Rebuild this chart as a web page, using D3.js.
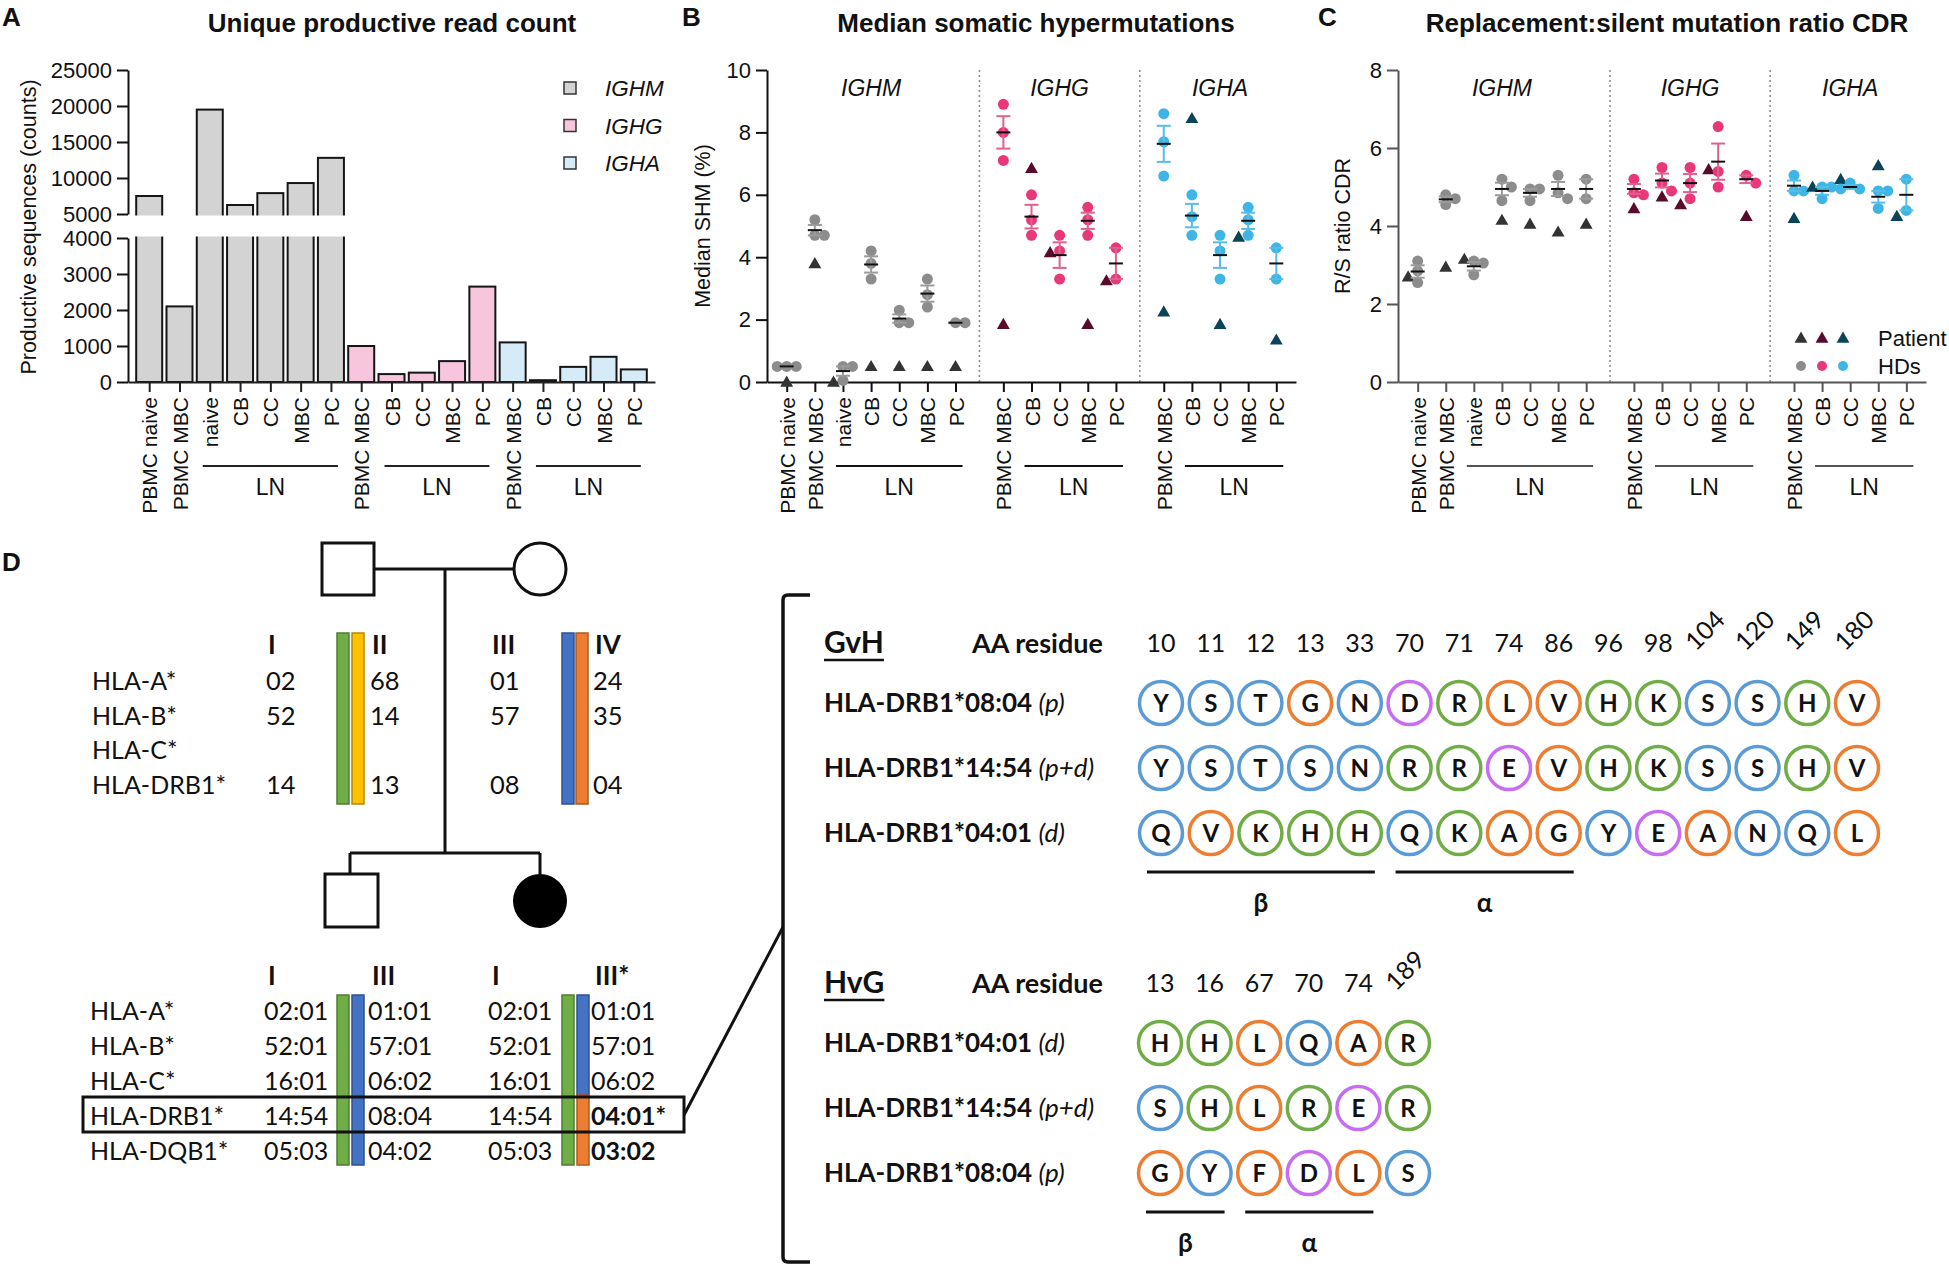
<!DOCTYPE html>
<html>
<head>
<meta charset="utf-8">
<title>Figure</title>
<script src="https://cdn.jsdelivr.net/npm/d3@7"></script>
<style>
  body { margin: 0; background: #fff; }
</style>
</head>
<body>
<svg id="fig" width="1949" height="1275"></svg>
<script>
// ---------- data ----------
const cellTypes = ["PBMC naive", "PBMC MBC", "naive", "CB", "CC", "MBC", "PC",
                   "PBMC MBC", "CB", "CC", "MBC", "PC",
                   "PBMC MBC", "CB", "CC", "MBC", "PC"];
const isotypes = ["IGHM", "IGHG", "IGHA"];
const isoOfCat = [0, 0, 0, 0, 0, 0, 0, 1, 1, 1, 1, 1, 2, 2, 2, 2, 2];
const lnRuns = [[2, 6], [8, 11], [13, 16]];

// A: unique productive reads
const readCounts = [7500, 2100, 19500, 6250, 7900, 9300, 12800,
                    1000, 220, 260, 580, 2650,
                    1100, 50, 420, 700, 350];
const yTicksLow = [0, 1000, 2000, 3000, 4000];
const yTicksHigh = [5000, 10000, 15000, 20000, 25000];

// B: median SHM (%)
const shmHD = [[0.5, 0.5, 0.5], [5.2, 4.7, 4.7], [0.5, 0.5, 0.05], [4.2, 3.8, 3.3], [2.3, 1.9, 1.9], [3.3, 2.8, 2.4], [1.9, 1.9],
               [8.9, 8.0, 7.1], [6.0, 5.2, 4.7], [4.7, 4.2, 3.3], [5.6, 5.2, 4.7], [4.3, 3.3],
               [8.6, 7.7, 6.6], [6.0, 5.3, 4.7], [4.7, 4.2, 3.3], [5.6, 5.2, 4.7], [4.3, 3.3]];
const shmPatient = [0, 3.8, 0, 0.5, 0.5, 0.5, 0.5,
                    1.85, 6.85, 4.15, 1.85, 3.25,
                    2.25, 8.45, 1.85, 4.65, 1.35];
const shmTicks = [0, 2, 4, 6, 8, 10];

// C: R/S ratio CDR
const rsHD = [[2.55, 2.85, 3.1], [4.8, 4.7, 4.55], [3.1, 3.05, 2.75], [5.2, 5.0, 4.65], [4.95, 4.95, 4.65], [5.3, 4.85, 4.7], [5.2, 4.7],
              [5.2, 4.85, 4.8], [5.5, 5.1, 4.9], [5.5, 5.1, 4.7], [6.55, 5.4, 5.0], [5.3, 5.1],
              [5.3, 4.9, 4.9], [5.0, 5.0, 4.7], [5.1, 4.95, 4.95], [4.9, 4.9, 4.45], [5.2, 4.4]];
const rsPatient = [2.7, 2.95, 3.15, 4.15, 4.05, 3.85, 4.05,
                   4.45, 4.75, 4.55, 5.45, 4.25,
                   4.2, 5.0, 5.2, 5.55, 4.25];
const rsTicks = [0, 2, 4, 6, 8];

// D: HLA typing
const lociParents = ["HLA-A*", "HLA-B*", "HLA-C*", "HLA-DRB1*"];
const parentHeads = ["I", "II", "III", "IV"];
const parentHaplo = [["02", "52", "", "14"], ["68", "14", "", "13"], ["01", "57", "", "08"], ["24", "35", "", "04"]];
const lociChildren = ["HLA-A*", "HLA-B*", "HLA-C*", "HLA-DRB1*", "HLA-DQB1*"];
const childHeads = ["I", "III", "I", "III*"];
const childHaplo = [["02:01", "52:01", "16:01", "14:54", "05:03"],
                    ["01:01", "57:01", "06:02", "08:04", "04:02"],
                    ["02:01", "52:01", "16:01", "14:54", "05:03"],
                    ["01:01", "57:01", "06:02", "04:01*", "03:02"]];
const childBold = [[], [], [], [3, 4]];

const gvhResidues = [10, 11, 12, 13, 33, 70, 71, 74, 86, 96, 98, 104, 120, 149, 180];
const gvhAlleles = ["HLA-DRB1*08:04", "HLA-DRB1*14:54", "HLA-DRB1*04:01"];
const gvhOrigin = ["(p)", "(p+d)", "(d)"];
const gvhSeq = ["YSTGNDRLVHKSSHV", "YSTSNRREVHKSSHV", "QVKHHQKAGYEANQL"];
const gvhRegions = [["β", 0, 4], ["α", 5, 8]];

const hvgResidues = [13, 16, 67, 70, 74, 189];
const hvgAlleles = ["HLA-DRB1*04:01", "HLA-DRB1*14:54", "HLA-DRB1*08:04"];
const hvgOrigin = ["(d)", "(p+d)", "(p)"];
const hvgSeq = ["HHLQAR", "SHLRER", "GYFDLS"];
const hvgRegions = [["β", 0, 1], ["α", 2, 4]];

// ---------- styles ----------
const barFill = ["#d3d3d3", "#f8c6dc", "#d5ecf8"];
const hdColor = ["#8c8c8c", "#e8387a", "#3db6e6"];
const errColor = ["#9b9b9b", "#e0608f", "#55bde8"];
const ptColor = ["#333333", "#5a0b2c", "#0c4457"];
const aaColor = { hyd: "#ed7d31", pol: "#5b9bd5", bas: "#70ad47", aci: "#c86cf2" };
const aaClass = c => "GAVLIFMWP".includes(c) ? "hyd" : "KRH".includes(c) ? "bas" : "DE".includes(c) ? "aci" : "pol";
const ARIAL = "'Liberation Sans', Arial, sans-serif";
const CAL = "Lato, 'Open Sans', sans-serif";

const svg = d3.select("#fig");
svg.append("rect").attr("width", 1949).attr("height", 1275).attr("fill", "#fff");

function txt(g, x, y, s, size, opts = {}) {
  return g.append("text").attr("x", x).attr("y", y).text(s)
    .attr("font-size", size).attr("font-family", opts.family || ARIAL)
    .attr("font-weight", opts.bold ? "bold" : "normal")
    .attr("font-style", opts.italic ? "italic" : "normal")
    .attr("text-anchor", opts.anchor || "start")
    .attr("fill", opts.fill || "#111");
}

function styleAxis(g, color, size) {
  g.selectAll("text").attr("font-size", size).attr("font-family", ARIAL).attr("fill", "#111");
  g.selectAll("line, path").attr("stroke", color).attr("stroke-width", 2);
}

function xLabels(g, xs, color) {
  const ax = g.append("g").attr("transform", "translate(0,382)")
    .call(d3.axisBottom(xs.scale).tickValues(xs.ticks).tickFormat((d, i) => cellTypes[i]).tickSize(10).tickSizeOuter(0));
  styleAxis(ax, color, 21);
  ax.selectAll(".tick text").attr("transform", "rotate(-90)").attr("x", -15).attr("y", 0)
    .attr("dy", "0.36em").attr("text-anchor", "end");
  lnRuns.forEach(([a, b]) => {
    const x0 = xs.scale(xs.ticks[a]) - 7, x1 = xs.scale(xs.ticks[b]) + 7;
    g.append("line").attr("x1", x0).attr("x2", x1).attr("y1", 466).attr("y2", 466)
      .attr("stroke", color).attr("stroke-width", 2);
    txt(g, (x0 + x1) / 2, 495, "LN", 23, { anchor: "middle", family: "'Liberation Sans Narrow', " + ARIAL });
  });
}

// ---------- panel A ----------
const gA = svg.append("g");
txt(gA, 2, 26, "A", 26, { bold: true });
txt(gA, 392, 32, "Unique productive read count", 26, { bold: true, anchor: "middle" });
const xA = d3.scaleLinear().domain([-0.7, 16.7]).range([128, 655]);
const yLow = d3.scaleLinear().domain([0, 4000]).range([382, 238]);
const yHigh = d3.scaleLinear().domain([5000, 25000]).range([214, 70]);
const bw = 26;
const barTop = v => v > 4000 ? yHigh(v) : yLow(v);
gA.selectAll("rect.bar").data(readCounts).join("rect").attr("class", "bar")
  .attr("x", (d, i) => xA(i) - bw / 2).attr("width", bw)
  .attr("y", d => barTop(d)).attr("height", d => yLow(0) - barTop(d))
  .attr("fill", (d, i) => barFill[isoOfCat[i]]).attr("stroke", "#151515").attr("stroke-width", 2);
// axis break
gA.append("rect").attr("x", 110).attr("y", yHigh(5000) + 1.5)
  .attr("width", xA(6) + bw / 2 + 4 - 110).attr("height", yLow(4000) - yHigh(5000) - 3).attr("fill", "#fff");
const axLow = gA.append("g").attr("transform", "translate(128,0)")
  .call(d3.axisLeft(yLow).tickValues(yTicksLow).tickSize(11).tickSizeOuter(0).tickPadding(5).tickFormat(d3.format("d")));
const axHigh = gA.append("g").attr("transform", "translate(128,0)")
  .call(d3.axisLeft(yHigh).tickValues(yTicksHigh).tickSize(11).tickSizeOuter(0).tickPadding(5).tickFormat(d3.format("d")));
styleAxis(axLow, "#111", 22); styleAxis(axHigh, "#111", 22);
xLabels(gA, { scale: xA, ticks: d3.range(17) }, "#222");
txt(gA, 0, 0, "Productive sequences (counts)", 21.5, { anchor: "middle" })
  .attr("transform", "translate(36,227) rotate(-90)");
isotypes.forEach((iso, k) => {
  const y = 88 + k * 37.5;
  gA.append("rect").attr("x", 564).attr("y", y - 6).attr("width", 12).attr("height", 12)
    .attr("fill", barFill[k]).attr("stroke", "#333").attr("stroke-width", 1.5);
  txt(gA, 605, y + 8, iso, 22.5, { italic: true });
});

// ---------- panels B and C ----------
const slotOf = i => i + isoOfCat[i] * 0.7;
const slots = d3.range(17).map(slotOf);

function swarm(vals, yS, tri, d, thr) {
  const placed = [], cx = [];
  vals.forEach(v => {
    const y = yS(v);
    let px = 0;
    for (const k of [0, 1, -1, 2, -2]) {
      if (placed.every(p => Math.hypot(p.x - k * d, p.y - y) >= thr)) { px = k * d; break; }
    }
    placed.push({ x: px, y }); cx.push(px);
  });
  const ty = yS(tri);
  let tx = 0;
  for (const k of [0, -1, 1, -2]) {
    if (placed.every(p => Math.hypot(p.x - k * d, p.y - ty) >= thr)) { tx = k * d; break; }
  }
  return { cx, tx };
}

function dotPanel(cfg) {
  const g = svg.append("g");
  txt(g, cfg.letterX, 26, cfg.letter, 26, { bold: true });
  txt(g, cfg.titleX, 32, cfg.title, 26, { bold: true, anchor: "middle" });
  const x = d3.scaleLinear().domain([-0.7, 18.1]).range(cfg.xr);
  const y = d3.scaleLinear().domain(cfg.ydom).range([382, 70]);
  // group separators and labels
  [6.85, 12.55].forEach(s => g.append("line").attr("x1", x(s)).attr("x2", x(s)).attr("y1", 70).attr("y2", 382)
    .attr("stroke", "#888").attr("stroke-width", 1.5).attr("stroke-dasharray", "2,3"));
  [3, 9.7, 15.4].forEach((s, k) => txt(g, x(s), 96, isotypes[k], 23, { italic: true, anchor: "middle" }));
  const ay = g.append("g").attr("transform", `translate(${cfg.xr[0]},0)`)
    .call(d3.axisLeft(y).tickValues(cfg.ticks).tickSize(11).tickSizeOuter(0).tickPadding(5));
  styleAxis(ay, cfg.axisColor, 22);
  xLabels(g, { scale: x, ticks: slots }, cfg.axisColor);
  txt(g, 0, 0, cfg.ylabel, 21.5, { anchor: "middle" })
    .attr("transform", `translate(${cfg.ylabX},226) rotate(-90)`);

  const tri = d3.symbol().type(d3.symbolTriangle).size(72);
  cfg.hd.forEach((vals, i) => {
    const k = isoOfCat[i], cxc = x(slots[i]);
    const sw = swarm(vals, y, cfg.pt[i], 9.5, 9.5);
    g.append("path").attr("d", tri).attr("fill", ptColor[k])
      .attr("transform", `translate(${cxc + sw.tx},${y(cfg.pt[i]) + 1})`);
    vals.forEach((v, j) => g.append("circle").attr("cx", cxc + sw.cx[j]).attr("cy", y(v)).attr("r", 5.5)
      .attr("fill", hdColor[k]));
    const m = d3.mean(vals), se = vals.length > 1 ? d3.deviation(vals) / Math.sqrt(vals.length) : 0;
    const ec = errColor[k];
    g.append("line").attr("x1", cxc).attr("x2", cxc).attr("y1", y(m - se)).attr("y2", y(m + se))
      .attr("stroke", ec).attr("stroke-width", 2);
    [m - se, m + se].forEach(v => g.append("line").attr("x1", cxc - 7).attr("x2", cxc + 7)
      .attr("y1", y(v)).attr("y2", y(v)).attr("stroke", ec).attr("stroke-width", 2));
    g.append("line").attr("x1", cxc - 7).attr("x2", cxc + 7).attr("y1", y(m)).attr("y2", y(m))
      .attr("stroke", "#111").attr("stroke-width", 2);
  });
  return g;
}

dotPanel({ letter: "B", letterX: 682, title: "Median somatic hypermutations", titleX: 1036,
  xr: [767, 1296], ydom: [0, 10], ticks: shmTicks, hd: shmHD, pt: shmPatient,
  ylabel: "Median SHM (%)", ylabX: 710, axisColor: "#111" });
const gC = dotPanel({ letter: "C", letterX: 1318, title: "Replacement:silent mutation ratio CDR", titleX: 1667,
  xr: [1398, 1926], ydom: [0, 8], ticks: rsTicks, hd: rsHD, pt: rsPatient,
  ylabel: "R/S ratio CDR", ylabX: 1350, axisColor: "#555" });
// legend C
const triL = d3.symbol().type(d3.symbolTriangle).size(72);
[0, 1, 2].forEach(k => {
  gC.append("path").attr("d", triL).attr("fill", ptColor[k]).attr("transform", `translate(${1801 + k * 21},339)`);
  gC.append("circle").attr("cx", 1801 + k * 21).attr("cy", 366).attr("r", 5).attr("fill", hdColor[k]);
});
txt(gC, 1878, 346, "Patient", 22);
txt(gC, 1878, 374, "HDs", 22);

// ---------- panel D: pedigree ----------
const gD = svg.append("g");
txt(gD, 2, 571, "D", 26, { bold: true });
function ln(x1, y1, x2, y2) {
  gD.append("line").attr("x1", x1).attr("y1", y1).attr("x2", x2).attr("y2", y2)
    .attr("stroke", "#111").attr("stroke-width", 3);
}
gD.append("rect").attr("x", 322).attr("y", 543).attr("width", 52).attr("height", 52)
  .attr("fill", "#fff").attr("stroke", "#111").attr("stroke-width", 3);
gD.append("circle").attr("cx", 540).attr("cy", 569).attr("r", 26)
  .attr("fill", "#fff").attr("stroke", "#111").attr("stroke-width", 3);
ln(374, 569, 514, 569);
ln(445, 569, 445, 853);
ln(350, 853, 540, 853);
ln(350, 853, 350, 874);
ln(540, 853, 540, 874);
gD.append("rect").attr("x", 325).attr("y", 874).attr("width", 53).attr("height", 53)
  .attr("fill", "#fff").attr("stroke", "#111").attr("stroke-width", 3);
gD.append("circle").attr("cx", 540).attr("cy", 901).attr("r", 27).attr("fill", "#000");

const hapFill = { g: "#70ad47", y: "#ffc000", b: "#4472c4", o: "#ed7d31" };
const hapEdge = { g: "#4f7d32", y: "#b48800", b: "#2f528f", o: "#ae5a21" };
function hapBar(x, y0, y1, c) {
  gD.append("rect").attr("x", x).attr("y", y0).attr("width", 12).attr("height", y1 - y0)
    .attr("fill", hapFill[c]).attr("stroke", hapEdge[c]).attr("stroke-width", 1.5);
}
const colX = [266, 370, 490, 593];
// parents table
const rowP = d3.scaleLinear().domain([0, 3]).range([690, 794]);
lociParents.forEach((l, r) => txt(gD, 92, rowP(r), l, 25, { family: CAL }));
parentHeads.forEach((h, c) => txt(gD, colX[c] + 2, 654, h, 26, { family: CAL, bold: true }));
parentHaplo.forEach((col, c) => col.forEach((v, r) => txt(gD, colX[c], rowP(r), v, 25.5, { family: CAL })));
hapBar(337, 633, 804, "g"); hapBar(352, 633, 804, "y");
hapBar(562, 633, 804, "b"); hapBar(576, 633, 804, "o");
// children table
const rowC = d3.scaleLinear().domain([0, 4]).range([1020, 1160]);
lociChildren.forEach((l, r) => txt(gD, 90, rowC(r), l, 25, { family: CAL }));
childHeads.forEach((h, c) => txt(gD, colX[c] + 2, 985, h, 26, { family: CAL, bold: true }));
childHaplo.forEach((col, c) => col.forEach((v, r) =>
  txt(gD, colX[c] - 2, rowC(r), v, 25, { family: CAL, bold: childBold[c].includes(r) })));
hapBar(337, 995, 1165, "g"); hapBar(352, 995, 1165, "b");
hapBar(562, 995, 1165, "g"); hapBar(577, 995, 1095, "b"); hapBar(577, 1095, 1165, "o");
gD.append("rect").attr("x", 83).attr("y", 1097).attr("width", 601).attr("height", 35)
  .attr("fill", "none").attr("stroke", "#111").attr("stroke-width", 3);
ln(684, 1115, 783, 927);
gD.append("path").attr("d", "M810,595 H788 Q783,595 783,600 V1257 Q783,1262 788,1262 H810")
  .attr("fill", "none").attr("stroke", "#111").attr("stroke-width", 3.5);

// ---------- residue comparisons ----------
function residueBlock(cfg) {
  const x = d3.scaleLinear().domain([0, cfg.residues.length - 1]).range(cfg.xr);
  const y = d3.scaleLinear().domain([0, 2]).range(cfg.yr);
  const t = txt(gD, 824, cfg.headY, cfg.title, 30, { family: CAL, bold: true });
  gD.append("line").attr("x1", 824).attr("x2", 824 + t.node().getComputedTextLength())
    .attr("y1", cfg.headY + 7).attr("y2", cfg.headY + 7).attr("stroke", "#111").attr("stroke-width", 2.5);
  txt(gD, 972, cfg.headY, "AA residue", 27, { family: CAL, bold: true });
  cfg.residues.forEach((r, i) => {
    if (r >= 100) {
      txt(gD, 0, 0, String(r), 25, { family: CAL }).attr("transform", `translate(${x(i) - 12},${cfg.headY - 1}) rotate(-45)`);
    } else {
      txt(gD, x(i), cfg.headY - 1, String(r), 25, { family: CAL, anchor: "middle" });
    }
  });
  cfg.seqs.forEach((s, r) => {
    const tl = txt(gD, 824, y(r) + 9, cfg.alleles[r] + " ", 26, { family: CAL, bold: true });
    tl.append("tspan").attr("font-weight", "normal").attr("font-style", "italic").text(cfg.origin[r]);
    s.split("").forEach((c, i) => {
      gD.append("circle").attr("cx", x(i)).attr("cy", y(r)).attr("r", 21.5)
        .attr("fill", "#fff").attr("stroke", aaColor[aaClass(c)]).attr("stroke-width", 3.5);
      txt(gD, x(i), y(r), c, 24, { family: CAL, bold: true, anchor: "middle" }).attr("dy", "0.36em");
    });
  });
  cfg.regions.forEach(([lab, a, b]) => {
    const x0 = x(a) - 14, x1 = x(b) + 15, ly = cfg.yr[1] + 39;
    gD.append("line").attr("x1", x0).attr("x2", x1).attr("y1", ly).attr("y2", ly)
      .attr("stroke", "#111").attr("stroke-width", 3);
    txt(gD, (x0 + x1) / 2, ly + 40, lab, 26, { family: CAL, bold: true, anchor: "middle" });
  });
}
residueBlock({ title: "GvH", headY: 653, residues: gvhResidues, alleles: gvhAlleles, origin: gvhOrigin,
  seqs: gvhSeq, regions: gvhRegions, xr: [1161, 1857], yr: [703, 833] });
residueBlock({ title: "HvG", headY: 993, residues: hvgResidues, alleles: hvgAlleles, origin: hvgOrigin,
  seqs: hvgSeq, regions: hvgRegions, xr: [1160, 1408], yr: [1043, 1173] });
</script>
</body>
</html>
